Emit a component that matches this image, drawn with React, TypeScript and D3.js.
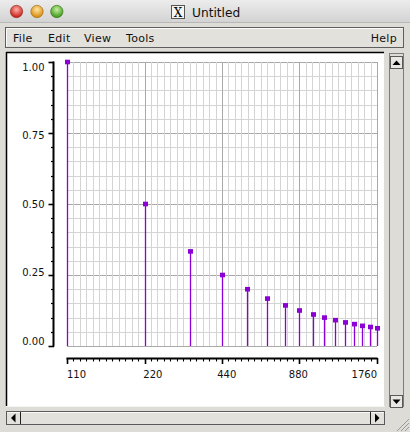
import * as d3 from "d3";

// harmonic series of A2 (Hz) and relative amplitude
const FREQS = [110, 220, 330, 440, 550, 660, 770, 880, 990, 1100, 1210, 1320, 1430, 1540, 1650, 1760];
const AMPS = [1.0, 0.5, 0.333, 0.25, 0.2, 0.167, 0.143, 0.125, 0.111, 0.1, 0.091, 0.083, 0.077, 0.071, 0.067, 0.0625];

const X_TICKS = [110, 220, 440, 880, 1760];
const X_LABELS = ["110", "220", "440", "880", "1760"];
const Y_TICKS = [0, 0.25, 0.5, 0.75, 1];
const Y_LABELS = ["0.00", "0.25", "0.50", "0.75", "1.00"];
const MENU = [
  { label: "File", x: 13 },
  { label: "Edit", x: 48 },
  { label: "View", x: 84 },
  { label: "Tools", x: 126 },
];

const W = 410;
const H = 432;
const STEM = "#8b00d4";
const FONT = "DejaVu Sans, sans-serif";

export default function App() {
  const x = d3.scaleLog().base(2).domain([110, 1760]).range([67, 377]);
  const y = d3.scaleLinear().domain([0, 1]).range([346, 62]);

  // semitone grid, 12 per octave
  const semis = d3.range(0, 49).map((k) => 110 * Math.pow(2, k / 12));
  const minorY = d3.range(0, 21).map((k) => k * 0.05);
  const px = (v: number) => Math.round(x(v)) + 0.5;
  const py = (v: number) => Math.round(y(v)) + 0.5;
  const digitW = 6.36; // DejaVu 10px digit advance

  return (
    <div style={{ position: "fixed", left: 0, top: 0, width: W, height: H }}>
      <svg width={W} height={H} style={{ display: "block" }} fontFamily={FONT}>
        <defs>
          <linearGradient id="title" x1="0" y1="0" x2="0" y2="1">
            <stop offset="0%" stopColor="#ececec" />
            <stop offset="100%" stopColor="#d2d2d2" />
          </linearGradient>
          <radialGradient id="red" cx="50%" cy="35%" r="60%">
            <stop offset="0%" stopColor="#ffb0a8" />
            <stop offset="100%" stopColor="#c8201a" />
          </radialGradient>
          <radialGradient id="yel" cx="50%" cy="35%" r="60%">
            <stop offset="0%" stopColor="#ffe6a0" />
            <stop offset="100%" stopColor="#d88a10" />
          </radialGradient>
          <radialGradient id="grn" cx="50%" cy="35%" r="60%">
            <stop offset="0%" stopColor="#c8f0a0" />
            <stop offset="100%" stopColor="#3e9a1a" />
          </radialGradient>
        </defs>

        {/* window */}
        <rect x={0} y={0} width={W} height={H} fill="#dddcd6" />
        <rect x={0} y={0} width={W} height={23} fill="url(#title)" />
        <line x1={0} x2={W} y1={22.5} y2={22.5} stroke="#b8b8b8" />
        <circle cx={16.5} cy={11.5} r={6.2} fill="url(#red)" stroke="#8a2a20" strokeWidth={0.6} />
        <circle cx={37} cy={11.5} r={6.2} fill="url(#yel)" stroke="#9a6a10" strokeWidth={0.6} />
        <circle cx={56.8} cy={11.5} r={6.2} fill="url(#grn)" stroke="#3a7020" strokeWidth={0.6} />
        <rect x={171.5} y={5.5} width={13} height={13} fill="#f4f4f4" stroke="#555" />
        <text x={178} y={16.5} textAnchor="middle" fontSize={12} fontFamily="DejaVu Serif, serif">X</text>
        <text x={192} y={16.5} fontSize={12.2} fill="#111">Untitled</text>

        {/* menu bar */}
        <rect x={5.5} y={27.5} width={398} height={20} fill="#e2e1dc" stroke="#5e5e5e" />
        <line x1={6.5} x2={402.5} y1={28.5} y2={28.5} stroke="#fbfbfb" />
        <line x1={6.5} x2={6.5} y1={28.5} y2={46.5} stroke="#fbfbfb" />
        {MENU.map((m) => (
          <text key={m.label} x={m.x} y={42} fontSize={11} fill="#111" letterSpacing={0.3}>
            {m.label}
          </text>
        ))}
        <text x={397} y={42} fontSize={11} fill="#111" textAnchor="end" letterSpacing={0.3}>Help</text>

        {/* content panel */}
        <rect x={6} y={52} width={378} height={354} fill="#ffffff" />
        <line x1={6} x2={384} y1={52.5} y2={52.5} stroke="#000" strokeWidth={1.5} />
        <line x1={6.5} x2={6.5} y1={52} y2={406} stroke="#000" strokeWidth={1.5} />
        <line x1={6} x2={385} y1={406.5} y2={406.5} stroke="#f4f4f2" />

        {/* vertical scrollbar */}
        <rect x={389.5} y={53.5} width={14} height={353} fill="#dddcd6" stroke="#7c7c7c" />
        <rect x={390.5} y={56.5} width={12} height={12} fill="#e8e7e2" stroke="#5a5a5a" />
        <path d="M392.5,65 L396.5,60.5 L400.5,65 Z" fill="#000" />
        <rect x={390.5} y={395.5} width={12} height={12} fill="#e8e7e2" stroke="#5a5a5a" />
        <path d="M392.5,399.5 L396.5,404 L400.5,399.5 Z" fill="#000" />

        {/* horizontal scrollbar */}
        <rect x={6.5} y={411.5} width={378} height={13} fill="#e2e1dc" stroke="#5a5a5a" />
        <line x1={7} x2={384} y1={412.5} y2={412.5} stroke="#f8f8f6" />
        <line x1={20.5} x2={20.5} y1={412} y2={424} stroke="#222" />
        <path d="M11,418 L15.5,413.5 L15.5,422.5 Z" fill="#000" />
        <line x1={370.5} x2={370.5} y1={412} y2={424} stroke="#222" />
        <path d="M379.5,418 L375,413.5 L375,422.5 Z" fill="#000" />

        {/* resize grip */}
        {[0, 4, 8].map((o) => (
          <line key={o} x1={409} y1={419 + o} x2={397 + o} y2={431} stroke="#9a9a9a" />
        ))}

        {/* grid */}
        {minorY.map((v, i) => (
          <line key={"hy" + i} x1={67} x2={377} y1={py(v)} y2={py(v)}
            stroke={i % 5 === 0 ? "#a9a9a9" : "#d4d4d4"} />
        ))}
        {semis.map((v, i) => (
          <line key={"vx" + i} x1={px(v)} x2={px(v)} y1={62} y2={346}
            stroke={i % 12 === 0 ? "#a9a9a9" : "#d4d4d4"} />
        ))}

        {/* stems */}
        {FREQS.map((f, i) => (
          <g key={"s" + f}>
            <line x1={px(f)} x2={px(f)} y1={346} y2={y(AMPS[i])} stroke={STEM} strokeWidth={1.3} />
            <rect x={px(f) - 2.5} y={y(AMPS[i]) - 2.3} width={5} height={4.6} fill={STEM} />
          </g>
        ))}

        {/* y axis */}
        <line x1={53.5} x2={53.5} y1={61.5} y2={346.5} stroke="#000" strokeWidth={2} />
        {minorY.map((v, i) => (
          <line key={"yt" + i} x1={i % 5 === 0 ? 48.5 : 51} x2={54} y1={py(v)} y2={py(v)}
            stroke="#000" strokeWidth={i % 5 === 0 ? 1.6 : 1.2} />
        ))}
        {Y_TICKS.map((v, i) => (
          <text key={"yl" + v} x={44.5} y={y(v) + 3.6 + (v - 0.5) * 10} textAnchor="end"
            fontSize={10} fill="#111">
            {Y_LABELS[i]}
          </text>
        ))}

        {/* x axis */}
        <line x1={66.5} x2={377.5} y1={358.5} y2={358.5} stroke="#000" strokeWidth={2} />
        {semis.map((v, i) => (
          <line key={"xt" + i} x1={px(v)} x2={px(v)} y1={358} y2={i % 12 === 0 ? 364 : 361.5}
            stroke="#000" strokeWidth={i % 12 === 0 ? 1.6 : 1.1} />
        ))}
        {X_TICKS.map((v, i) => {
          const f = i / (X_TICKS.length - 1);
          const w = X_LABELS[i].length * digitW;
          return (
            <text key={"xl" + v} x={x(v) - f * f * w} y={378} fontSize={10} fill="#111">
              {X_LABELS[i]}
            </text>
          );
        })}
      </svg>
    </div>
  );
}
